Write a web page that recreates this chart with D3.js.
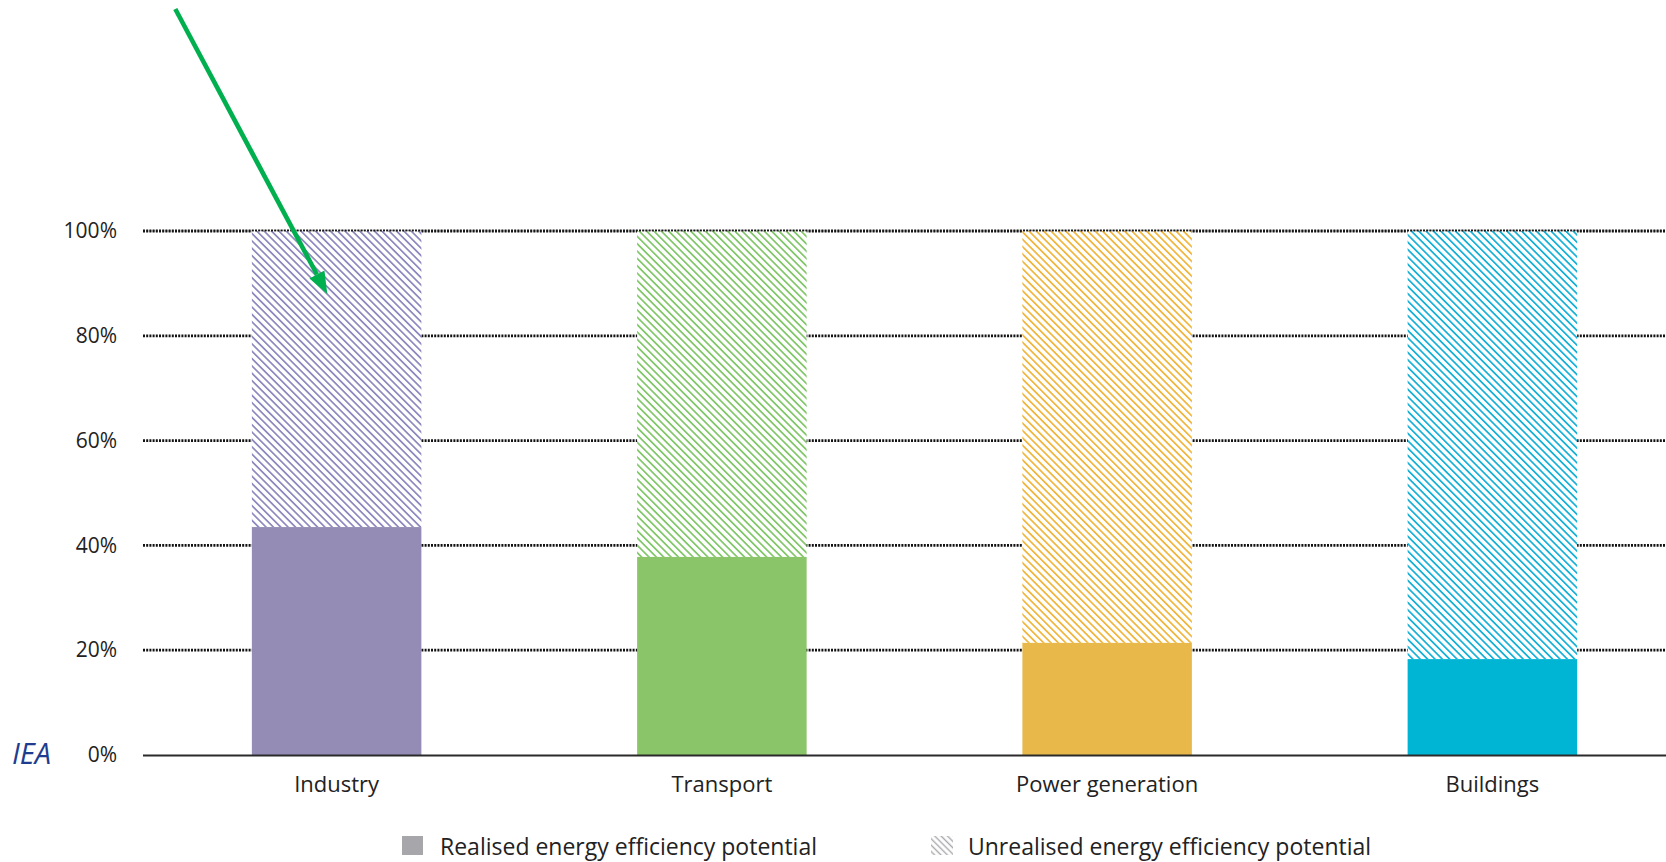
<!DOCTYPE html>
<html>
<head>
<meta charset="utf-8">
<script src="https://cdn.jsdelivr.net/npm/d3@7/dist/d3.min.js"></script>
<style>
  html, body { margin: 0; padding: 0; background: #fff; overflow: hidden; }
  svg { display: block; }
  text { font-family: "Open Sans", "Noto Sans", sans-serif; fill: #222; }
</style>
</head>
<body>
<svg id="chart" width="1666" height="862"></svg>
<script>
// ---- data ----
const categories = ["Industry", "Transport", "Power generation", "Buildings"];
const realised = [43.5, 37.8, 21.4, 18.3];
const unrealised = [56.5, 62.2, 78.6, 81.7];
const yTicks = [0, 20, 40, 60, 80, 100];
const solidColors = ["#948cb4", "#8bc56a", "#e8b94a", "#00b4d3"];
const hatchColors = ["#8e8abf", "#82c86a", "#f1b63c", "#17b2d8"];
const legendLabels = ["Realised energy efficiency potential", "Unrealised energy efficiency potential"];
const sourceLabel = "IEA";

// ---- layout ----
const W = 1666, H = 862;
const svg = d3.select("#chart");
const defs = svg.append("defs");

const x = d3.scaleBand()
  .domain(categories)
  .range([144, 1685])
  .paddingInner(0.56)
  .paddingOuter(0.28);

const y = d3.scaleLinear().domain([0, 100]).range([755, 231]);

// hatch patterns
categories.forEach((c, i) => {
  const p = defs.append("pattern")
    .attr("id", "hatch" + i)
    .attr("patternUnits", "userSpaceOnUse")
    .attr("width", 10).attr("height", 5.2)
    .attr("patternTransform", "rotate(45)");
  p.append("rect").attr("width", 10).attr("height", 5.2).attr("fill", "#fff");
  p.append("line").attr("x1", 0).attr("x2", 10).attr("y1", 2.6).attr("y2", 2.6)
    .attr("stroke", hatchColors[i]).attr("stroke-width", 1.7);
});
const lp = defs.append("pattern")
  .attr("id", "hatchLegend")
  .attr("patternUnits", "userSpaceOnUse")
  .attr("width", 10).attr("height", 4.5)
  .attr("patternTransform", "rotate(45)");
lp.append("rect").attr("width", 10).attr("height", 4.5).attr("fill", "#fff");
lp.append("line").attr("x1", 0).attr("x2", 10).attr("y1", 2.2).attr("y2", 2.2)
  .attr("stroke", "#a9a9ad").attr("stroke-width", 1.4);

// gridlines (dotted)
const gridG = svg.append("g");
yTicks.filter(t => t > 0).forEach(t => {
  gridG.append("line")
    .attr("x1", 143).attr("x2", W)
    .attr("y1", y(t)).attr("y2", y(t))
    .attr("stroke", "#111").attr("stroke-width", 2.8)
    .attr("stroke-dasharray", "2,1.2");
});

// y tick labels
const yAxis = d3.axisLeft(y).tickValues(yTicks).tickFormat(d => d + "%").tickSize(0).tickPadding(0);
const yG = svg.append("g").attr("transform", "translate(117,0)").call(yAxis);
yG.select(".domain").remove();
yG.selectAll("text").style("font-size", "21px").attr("fill", "#222")
  .style("font-family", '"Open Sans", sans-serif');

// bars
const barsG = svg.append("g");
categories.forEach((c, i) => {
  barsG.append("rect")
    .attr("x", x(c)).attr("width", x.bandwidth())
    .attr("y", y(realised[i] + unrealised[i]))
    .attr("height", y(realised[i]) - y(realised[i] + unrealised[i]))
    .attr("fill", "url(#hatch" + i + ")");
  barsG.append("rect")
    .attr("x", x(c)).attr("width", x.bandwidth())
    .attr("y", y(realised[i]))
    .attr("height", y(0) - y(realised[i]))
    .attr("fill", solidColors[i]);
});

// top gridline faintly over bars
svg.append("line")
  .attr("x1", 143).attr("x2", W)
  .attr("y1", y(100)).attr("y2", y(100))
  .attr("stroke", "#1a1a1a").attr("stroke-opacity", 0.45).attr("stroke-width", 1.8)
  .attr("stroke-dasharray", "2,1.2");

// baseline
svg.append("line")
  .attr("x1", 143).attr("x2", W)
  .attr("y1", y(0) + 0.5).attr("y2", y(0) + 0.5)
  .attr("stroke", "#2a2a2a").attr("stroke-width", 2.2);

// x labels
const xAxis = d3.axisBottom(x).tickSize(0).tickPadding(0);
const xG = svg.append("g").attr("transform", "translate(0," + (y(0) + 21) + ")").call(xAxis);
xG.select(".domain").remove();
xG.selectAll("text").style("font-size", "22px").attr("fill", "#222")
  .style("font-family", '"Open Sans", sans-serif');

// source label
svg.append("text")
  .attr("x", 12).attr("y", 764)
  .style("font-size", "29px").style("font-style", "italic")
  .style("fill", "#1f3d8f")
  .text(sourceLabel);

// legend
const legendG = svg.append("g");
legendG.append("rect").attr("x", 402).attr("y", 836).attr("width", 21).attr("height", 19)
  .attr("fill", "#a7a7ab");
legendG.append("text").attr("x", 440).attr("y", 855).style("font-size", "23px").text(legendLabels[0]);
legendG.append("rect").attr("x", 931).attr("y", 836).attr("width", 22).attr("height", 19)
  .attr("fill", "url(#hatchLegend)");
legendG.append("text").attr("x", 968).attr("y", 855).style("font-size", "23px").text(legendLabels[1]);

// annotation arrow pointing into the Industry unrealised segment
const tipX = x("Industry") + x.bandwidth() * 0.445;
const tipY = y(88);
const startX = tipX - 152, startY = 9;
const ang = Math.atan2(tipY - startY, tipX - startX);
const headLen = 22, headHalf = 8.5;
const baseX = tipX - headLen * Math.cos(ang), baseY = tipY - headLen * Math.sin(ang);
svg.append("line")
  .attr("x1", startX).attr("y1", startY).attr("x2", baseX).attr("y2", baseY)
  .attr("stroke", "#00b04f").attr("stroke-width", 4.6);
svg.append("path")
  .attr("d", d3.line()([
    [tipX, tipY],
    [baseX + headHalf * Math.sin(ang), baseY - headHalf * Math.cos(ang)],
    [baseX - headHalf * Math.sin(ang), baseY + headHalf * Math.cos(ang)]
  ]) + "Z")
  .attr("fill", "#00b04f");
</script>
</body>
</html>
